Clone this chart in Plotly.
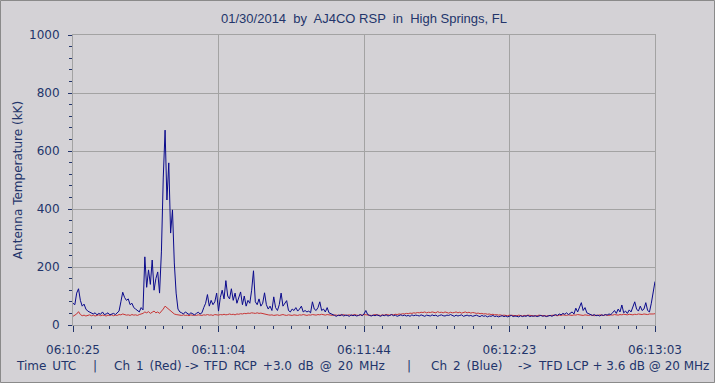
import plotly.graph_objects as go

# ---------------- data ----------------
sample_step_s = 0.5  # seconds between samples, starting 06:10:25 UTC
x_tick_seconds = [0, 39.5, 79, 118.5, 158]
x_tick_labels = ["06:10:25", "06:11:04", "06:11:44", "06:12:23", "06:13:03"]
y_tick_values = [0, 200, 400, 600, 800, 1000]

ch2_blue_lcp = [
    75, 70, 110, 125, 85, 65, 72, 55, 48, 45,
    40, 38, 42, 35, 40, 37, 45, 36, 38, 42,
    35, 38, 40, 36, 42, 48, 80, 113, 95, 85,
    90, 70, 75, 60, 55, 50, 45, 60, 52, 235,
    130, 190, 140, 224, 120, 160, 183, 110, 252, 507,
    672, 431, 559, 317, 397, 214, 110, 55, 45, 42,
    38, 45, 40, 36, 42, 38, 35, 40, 44, 38,
    42, 60, 75, 105, 65, 85, 70, 80, 110, 48,
    95, 120, 90, 153, 100, 90, 125, 85, 110, 75,
    95, 114, 70, 100, 65, 85, 75, 120, 187, 80,
    70, 90, 65, 75, 111, 70, 55, 65, 50, 97,
    60, 50, 70, 110, 65, 75, 84, 50, 45, 55,
    50, 60, 48, 55, 65, 45, 50, 45, 48, 42,
    80, 55, 50, 60, 80, 50, 55, 45, 60, 42,
    38, 35, 33, 30, 34, 32, 36, 31, 34, 33,
    30, 35, 32, 34, 31, 33, 36, 32, 38, 50,
    36, 33, 31, 34, 32, 35, 33, 30, 34, 32,
    35, 31, 33, 36, 32, 34, 30, 33, 35, 32,
    34, 31, 33, 30, 35, 32, 34, 33, 31, 35,
    32, 30, 34, 33, 31, 35, 32, 34, 30, 33,
    35, 32, 31, 34, 33, 36, 32, 30, 34, 31,
    33, 35, 30, 32, 34, 31, 33, 30, 32, 34,
    31, 29, 33, 30, 32, 28, 31, 30, 33, 29,
    31, 28, 30, 32, 29, 31, 28, 30, 33, 29,
    31, 30, 28, 32, 29, 31, 30, 33, 29, 31,
    30, 32, 29, 31, 33, 30, 32, 29, 31, 33,
    30, 34, 36, 33, 38, 35, 40, 37, 42, 36,
    40, 45, 38, 58, 45, 62, 77, 50, 60, 42,
    38, 35, 33, 36, 32, 34, 31, 35, 33, 36,
    34, 38, 36, 42, 50, 40, 55, 45, 69, 42,
    48, 40, 52, 45, 60, 80, 55, 48, 65, 50,
    55, 77, 50, 45, 75, 110, 150,
]

ch1_red_rcp = [
    30, 33, 38, 46, 36, 32, 34, 31, 33, 35,
    32, 34, 31, 33, 35, 32, 34, 33, 31, 34,
    33, 35, 32, 34, 33, 36, 35, 38, 36, 34,
    35, 33, 36, 34, 35, 33, 36, 38, 40, 45,
    42, 46, 40, 44, 48, 42, 45, 40, 47, 55,
    65, 60, 55, 48, 42, 38, 36, 35, 34, 33,
    35, 33, 34, 32, 35, 33, 34, 33, 35, 34,
    33, 35, 34, 36, 34, 35, 33, 36, 35, 34,
    36, 35, 37, 35, 36, 38, 36, 37, 35, 38,
    37, 39, 38, 40, 39, 41, 40, 42, 41, 40,
    42, 40, 41, 39, 38, 36, 35, 34, 35, 33,
    34, 35, 33, 34, 36, 34, 33, 35, 34, 33,
    35, 34, 33, 35, 34, 36, 34, 33, 35, 34,
    36, 35, 34, 36, 35, 37, 35, 34, 36, 35,
    34, 33, 35, 34, 33, 35, 34, 36, 33, 34,
    35, 33, 34, 36, 34, 33, 35, 34, 36, 35,
    34, 35, 33, 34, 36, 35, 34, 33, 35, 34,
    36, 35, 34, 36, 35, 37, 36, 38, 37, 39,
    38, 40, 39, 41, 40, 42, 41, 43, 42, 44,
    43, 45, 42, 44, 43, 45, 44, 42, 46, 43,
    44, 42, 45, 43, 41, 44, 42, 43, 45, 42,
    44, 41, 43, 45, 42, 44, 41, 43, 42, 40,
    41, 39, 40, 38, 39, 37, 38, 36, 37, 35,
    36, 34, 35, 33, 34, 33, 32, 34, 33, 32,
    33, 32, 34, 33, 31, 33, 32, 34, 33, 32,
    33, 31, 32, 34, 33, 32, 33, 31, 32, 33,
    32, 34, 33, 32, 34, 33, 35, 34, 33, 35,
    34, 33, 35, 34, 36, 35, 34, 33, 35, 34,
    33, 35, 34, 32, 34, 33, 35, 34, 33, 35,
    34, 33, 35, 34, 36, 35, 34, 36, 35, 37,
    36, 35, 37, 36, 35, 37, 36, 38, 37, 36,
    38, 37, 36, 38, 37, 38, 39,
]

time_s = [i * sample_step_s for i in range(len(ch2_blue_lcp))]

# ---------------- styling ----------------
BG = "#D4D2D6"
GRID = "#A3A3A3"
TXT = "#23356B"
FONT = "DejaVu Sans"

W, H = 715, 383
ML, MR, MT, MB = 73, 60, 35, 58
PW, PH = W - ML - MR, H - MT - MB

fig = go.Figure()
fig.add_trace(go.Scatter(x=time_s, y=ch1_red_rcp, mode="lines",
                         line=dict(color="#C83434", width=1), hoverinfo="skip"))
fig.add_trace(go.Scatter(x=time_s, y=ch2_blue_lcp, mode="lines",
                         line=dict(color="#0A0A8C", width=1), hoverinfo="skip"))

fig.update_layout(
    width=W, height=H,
    margin=dict(l=ML, r=MR, t=MT, b=MB, pad=0),
    paper_bgcolor=BG, plot_bgcolor=BG,
    showlegend=False,
    font=dict(family=FONT, size=12, color=TXT),
    title=dict(text="01/30/2014  by  AJ4CO RSP  in  High Springs, FL",
               x=(ML + PW / 2) / W, xanchor="center", y=1 - 18 / H, yanchor="middle",
               font=dict(family="Liberation Sans", size=13, color=TXT)),
)

fig.update_xaxes(
    range=[0, 158], tickmode="array", tickvals=x_tick_seconds, ticktext=x_tick_labels,
    showgrid=True, gridcolor=GRID, gridwidth=1, zeroline=False,
    showline=True, linecolor=GRID, mirror=True,
    ticks="outside", ticklen=6, tickcolor=TXT, tickwidth=1,
    minor=dict(ticks="outside", ticklen=3, dtick=39.5 / 8, tick0=0, tickcolor=TXT, showgrid=False),
    ticklabelstandoff=8,
    tickfont=dict(family=FONT, size=12, color=TXT),
)
fig.update_yaxes(
    range=[0, 1000], tickmode="array", tickvals=y_tick_values,
    showgrid=True, gridcolor=GRID, gridwidth=1, zeroline=False,
    showline=True, linecolor=GRID, mirror=True,
    ticks="outside", ticklen=4, tickcolor=TXT, tickwidth=1,
    minor=dict(ticks="outside", ticklen=3, dtick=40, tick0=0, tickcolor=TXT, showgrid=False),
    ticklabelstandoff=6,
    tickfont=dict(family=FONT, size=12, color=TXT),
    title=dict(text="Antenna Temperature (kK)", standoff=3,
               font=dict(family=FONT, size=12, color=TXT)),
)

# bottom caption pieces (left x in pixels); en-spaces mimic the wide source spacing
SP = "\u2002"
caption = [
    (14, "Time" + SP + "UTC"),
    (91, "|"),
    (112, "Ch" + SP + "1" + SP + "(Red)"),
    (183, "->"),
    (201, SP.join(["TFD", "RCP", "+3.0", "dB", "@", "20", "MHz"])),
    (405, "|"),
    (429, "Ch" + SP + "2" + SP + "(Blue)"),
    (516, "->"),
    (536, "TFD LCP + 3.6 dB @ 20 MHz"),
]
for px, txt in caption:
    fig.add_annotation(text=txt, xref="paper", yref="paper",
                       x=(px - ML) / PW, y=-(366 - (MT + PH)) / PH,
                       xanchor="left", yanchor="middle", showarrow=False,
                       font=dict(family=FONT, size=12, color=TXT))

# outer frame of the picture
fig.add_shape(type="rect", xref="paper", yref="paper",
              x0=-(ML - 0.5) / PW, x1=1 + (MR - 0.5) / PW,
              y0=-(MB - 0.5) / PH, y1=1 + (MT - 0.5) / PH,
              line=dict(color="#8A8A8A", width=1), fillcolor="rgba(0,0,0,0)", layer="below")

fig.write_html(
    "out.html",
    config={"displayModeBar": False},
    post_script="document.body.style.margin='0';document.body.style.background='" + BG + "';",
)
